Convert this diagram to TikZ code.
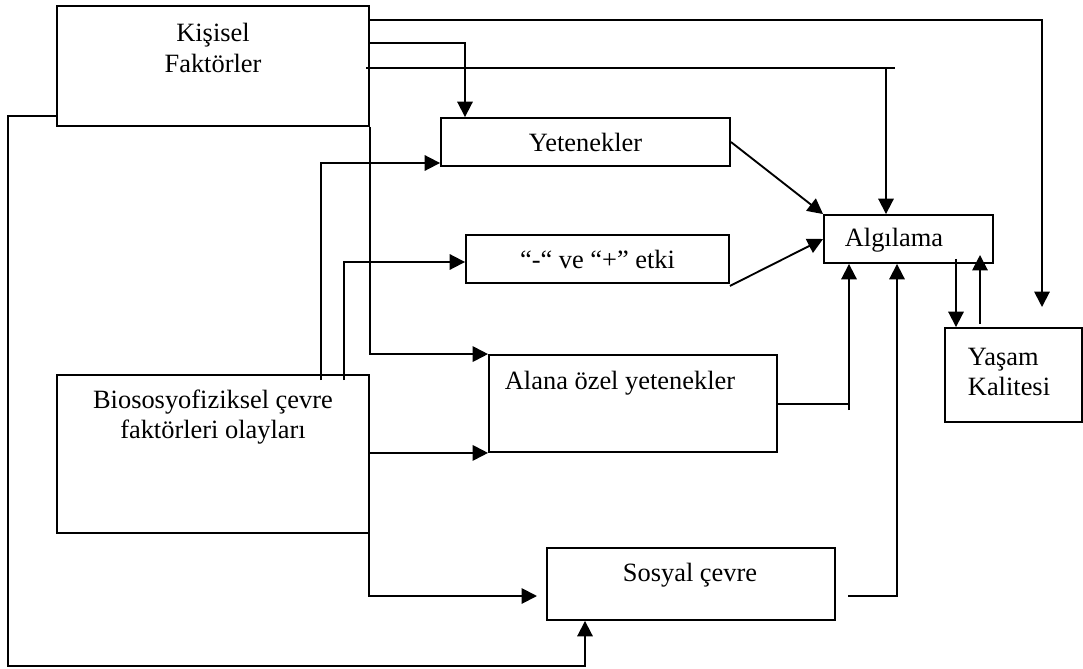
\documentclass[tikz,border=0pt]{standalone}
\usepackage{fontspec}
\setmainfont{Liberation Serif}
\usetikzlibrary{arrows.meta}
\newcommand{\pu}{0.4545pt}

\begin{document}
\begin{tikzpicture}[x=\pu, y=-\pu, line width=0.85pt,
    font=\fontsize{12}{13.8}\selectfont,
    box/.style={draw, rectangle, inner sep=0pt},
    arr/.style={-{Triangle[length=7pt,width=7pt]}}]
    \useasboundingbox (0,0) rectangle (1083,669);

    \node[box, minimum width=312*\pu, minimum height=120*\pu] (kisisel) at (213,66) {};
    \node[align=center] (kisiselT) at (213,48) {Kişisel\\Faktörler};
    \node[box, minimum width=289*\pu, minimum height=48*\pu] (yetenek) at (585.5,142) {Yetenekler};
    \node[box, minimum width=263*\pu, minimum height=48*\pu] (etki) at (597.5,259) {“-“ ve “+” etki};
    \node[box, minimum width=169*\pu, minimum height=48*\pu] (algi) at (908.5,239) {};
    \node (algiT) at (894,240) {Algılama};
    \node[box, minimum width=288*\pu, minimum height=97*\pu] (alana) at (633,403.5) {};
    \node (alanaT) at (620,383) {Alana özel yetenekler};
    \node[box, minimum width=137*\pu, minimum height=94*\pu] (yasam) at (1013.5,375) {};
    \node[anchor=west, align=left, inner sep=0pt] (yasamT) at (967,372) {Yaşam\\Kalitesi};
    \node[box, minimum width=312*\pu, minimum height=158*\pu] (bio) at (213,454) {};
    \node[align=center] (bioT) at (213,417) {Biososyofiziksel çevre\\faktörleri olayları};
    \node[box, minimum width=288*\pu, minimum height=72*\pu] (sosyal) at (691,584) {};
    \node (sosyalT) at (690,575) {Sosyal çevre};

    \coordinate (kTop) at (1042,20);
    \coordinate (kTopEnd) at (1042,307);
    \coordinate (kMid) at (465,43);
    \coordinate (kLow) at (366,68);
    \coordinate (kLowEnd) at (895,68);
    \coordinate (kLowDown) at (886,68);
    \coordinate (kLeft) at (8,116);
    \coordinate (kBottom) at (585,666);
    \draw[arr] (kisisel.east |- kTop) -- (kTop) -- (kTopEnd);
    \draw[arr] (kisisel.east |- kMid) -- (kMid) -- (kMid |- yetenek.north);
    \draw (kLow) -- (kLowEnd);
    \draw[arr] (kLowDown) -- (kLowDown |- algi.north);
    \draw[arr] (kisisel.south east) |- (alana.north west);
    \draw[arr] (kisisel.west |- kLeft) -- (kLeft) |- (kBottom) -- (kBottom |- sosyal.south);

    \coordinate (bA) at (321,380);
    \coordinate (bB) at (344,380);
    \coordinate (yIn) at (321,163);
    \coordinate (eIn) at (344,262);
    \coordinate (bS) at (369,523);
    \coordinate (sIn) at (369,596);
    \coordinate (sEnd) at (537,596);
    \draw[arr] (bA) -- (yIn) -- (yIn -| yetenek.west);
    \draw[arr] (bB) -- (eIn) -- (eIn -| etki.west);
    \draw[arr] (bio.east |- alana.south) -- (alana.south west);
    \draw[arr] (bS) -- (sIn) -- (sEnd);

    \draw[arr] (yetenek.east) -- (algi.north west);
    \draw[arr] ([yshift=-2*\pu]etki.south east) -- (algi.west);

    \coordinate (alOut) at (849,404);
    \coordinate (alUp) at (849,410);
    \coordinate (sOut) at (848,596);
    \coordinate (sUp) at (897,596);
    \draw (alana.east |- alOut) -- (alOut);
    \draw[arr] (alUp) -- (alUp |- algi.south);
    \draw[arr] (sOut) -- (sUp) -- (sUp |- algi.south);

    \coordinate (aDown) at (956,259);
    \coordinate (yUp) at (980,324);
    \coordinate (yUpEnd) at (980,255);
    \draw[arr] (aDown) -- (aDown |- yasam.north);
    \draw[arr] (yUp) -- (yUpEnd);
\end{tikzpicture}
\end{document}
